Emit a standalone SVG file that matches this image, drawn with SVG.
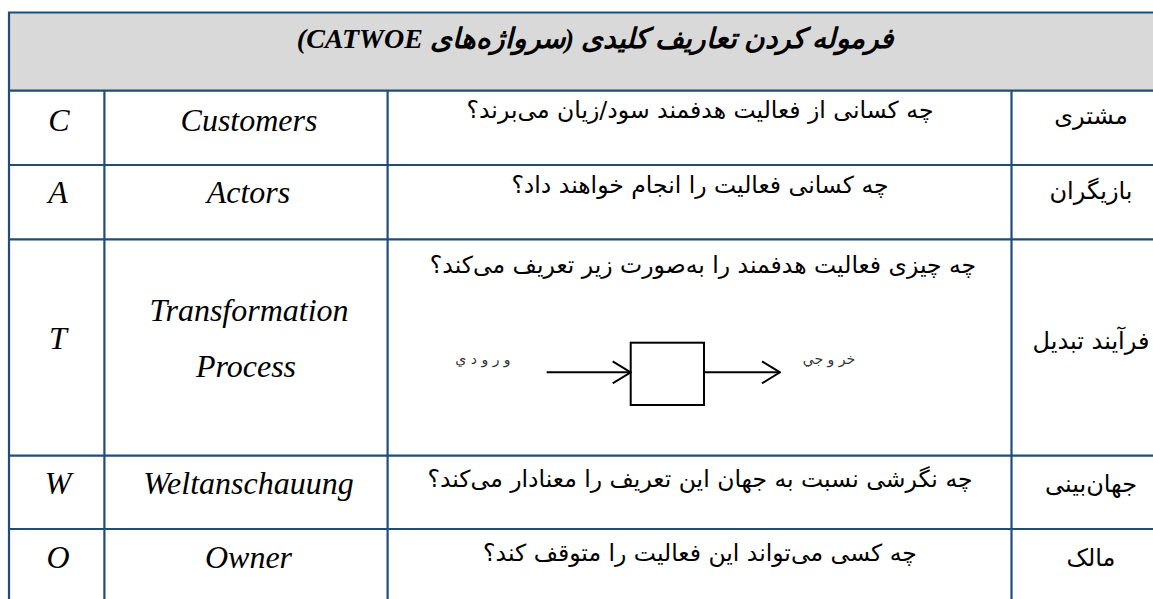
<svg xmlns="http://www.w3.org/2000/svg" width="1153" height="599" viewBox="0 0 1153 599">
<style>
.grid{stroke:#1f4e79;stroke-width:2.2;fill:none}
.lat{font-family:"Liberation Serif","Times New Roman",serif;font-style:italic;font-size:32px;fill:#000;text-anchor:middle}
.fa{font-family:"DejaVu Sans",sans-serif;font-size:23.5px;fill:#000;text-anchor:middle;direction:rtl}
.fr{font-family:"DejaVu Sans",sans-serif;font-size:24px;fill:#000;text-anchor:middle;direction:rtl}
.hd{font-family:"Liberation Serif","DejaVu Sans",serif;font-weight:bold;font-style:italic;font-size:28px;fill:#000;text-anchor:middle;direction:rtl}
.sm{font-family:"DejaVu Sans",sans-serif;font-size:14px;fill:#333;text-anchor:middle;direction:rtl}
.ln{stroke:#000;stroke-width:2;fill:none}
</style>
<defs>
<marker id="ah" viewBox="0 0 20 24" refX="19" refY="12" markerWidth="20" markerHeight="24" markerUnits="userSpaceOnUse" orient="auto">
<path d="M1,1 L19,12 L1,23" fill="none" stroke="#000" stroke-width="2"/>
</marker>
</defs>
<rect x="0" y="0" width="1153" height="599" fill="#fff"/>
<g id="header">
<rect x="9" y="12.5" width="1150" height="78.2" fill="#d9d9d9"/>
<text class="hd" x="595" y="48">فرموله کردن تعاریف کلیدی (سرواژه‌های CATWOE)</text>
</g>
<g id="grid">
<path class="grid" d="M9,12.5 H1160 M9,90.7 H1160 M9,165 H1160 M9,239.3 H1160 M9,455.7 H1160 M9,529 H1160 M9,11.4 V605 M104.4,90.7 V605 M387.6,90.7 V605 M1011.5,90.7 V605"/>
</g>
<g id="row-c">
<text class="lat" x="59" y="130.7">C</text>
<text class="lat" x="249" y="130.7">Customers</text>
<text class="fa" x="700" y="118">چه کسانی از فعالیت هدفمند سود/زیان می‌برند؟</text>
<text class="fr" x="1091" y="124">مشتری</text>
</g>
<g id="row-a">
<text class="lat" x="58" y="203.3">A</text>
<text class="lat" x="248.5" y="203.3">Actors</text>
<text class="fa" x="700" y="193">چه کسانی فعالیت را انجام خواهند داد؟</text>
<text class="fr" x="1091" y="199">بازیگران</text>
</g>
<g id="row-t">
<text class="lat" x="58" y="349">T</text>
<text class="lat" x="249" y="321">Transformation</text>
<text class="lat" x="246" y="376.7">Process</text>
<text class="fa" x="703" y="273">چه چیزی فعالیت هدفمند را به‌صورت زیر تعریف می‌کند؟</text>
<text class="fr" x="1091" y="349">فرآیند تبدیل</text>
</g>
<g id="process-box">
<rect x="630.7" y="342.7" width="73.3" height="62.3" fill="#fff" stroke="#000" stroke-width="2"/>
</g>
<g id="label-input"><text class="sm" x="483" y="364">و ر و د ي</text></g>
<g id="label-output"><text class="sm" x="829" y="364">خر و جي</text></g>
<g id="connectors">
<line class="ln" x1="546.7" y1="372.3" x2="630.7" y2="372.3" marker-end="url(#ah)"/>
<line class="ln" x1="704" y1="372.3" x2="780" y2="372.3" marker-end="url(#ah)"/>
</g>
<g id="row-w">
<text class="lat" x="58" y="494.3">W</text>
<text class="lat" x="248.5" y="494.3">Weltanschauung</text>
<text class="fa" x="700" y="487">چه نگرشی نسبت به جهان این تعریف را معنادار می‌کند؟</text>
<text class="fr" x="1091" y="492">جهان‌بینی</text>
</g>
<g id="row-o">
<text class="lat" x="58" y="568">O</text>
<text class="lat" x="248.5" y="568">Owner</text>
<text class="fa" x="700" y="561">چه کسی می‌تواند این فعالیت را متوقف کند؟</text>
<text class="fr" x="1091" y="566">مالک</text>
</g>
</svg>
